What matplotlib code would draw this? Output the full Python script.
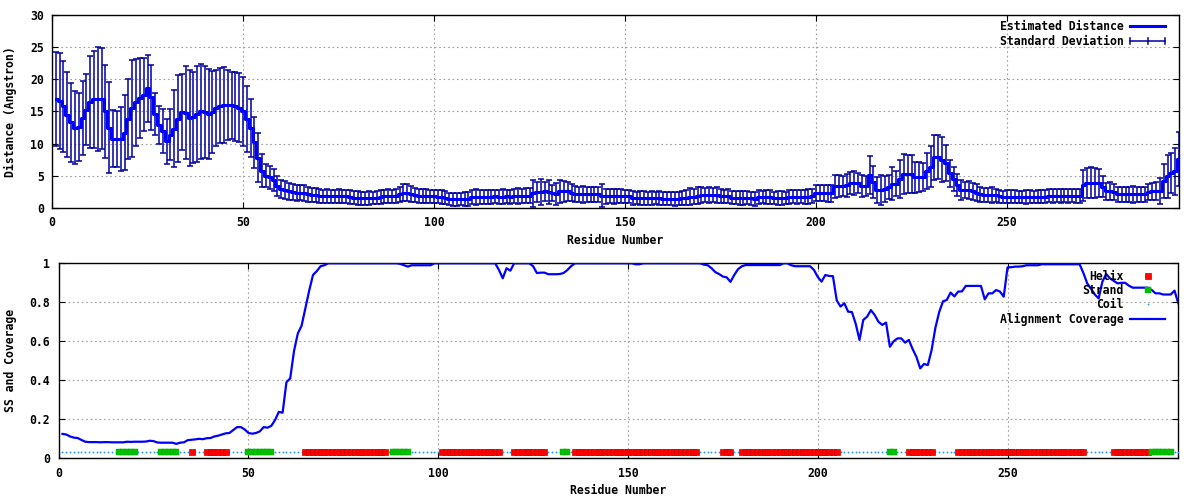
import matplotlib
matplotlib.use('Agg')
import matplotlib.pyplot as plt
from matplotlib.lines import Line2D
from matplotlib.legend_handler import HandlerBase

# ---------------- data ----------------
residues = list(range(1, 296))

distance = [
    17.0, 16.6, 15.8, 14.5, 13.3, 12.5, 12.6, 14.0, 15.3, 16.5,
    16.9, 17.0, 17.0, 15.0, 12.5, 10.8, 10.7, 10.7, 11.7, 13.8,
    15.5, 16.4, 17.1, 17.6, 18.6, 17.2, 14.6, 12.9, 12.0, 10.4,
    11.4, 12.3, 13.9, 14.9, 14.8, 14.0, 14.1, 14.6, 15.0, 14.9,
    14.6, 14.9, 15.5, 15.9, 16.0, 16.0, 16.0, 15.8, 15.6, 15.0,
    13.8, 12.4, 10.2, 7.8, 5.8, 5.0, 4.8, 4.3, 3.4, 3.0,
    2.8, 2.6, 2.5, 2.4, 2.4, 2.3, 2.1, 2.0, 2.0, 1.9,
    1.8, 1.8, 1.8, 1.8, 1.8, 1.8, 1.8, 1.7, 1.6, 1.55,
    1.5, 1.5, 1.55, 1.55, 1.6, 1.7, 1.8, 1.8, 1.8, 1.9,
    2.1, 2.4, 2.4, 2.2, 2.0, 1.9, 1.9, 1.9, 1.85, 1.8,
    1.75, 1.7, 1.6, 1.35, 1.35, 1.35, 1.4, 1.35, 1.4, 1.7,
    1.7, 1.75, 1.7, 1.7, 1.75, 1.8, 1.75, 1.75, 1.8, 1.75,
    1.8, 1.85, 1.9, 1.9, 1.9, 2.3, 2.5, 2.5, 2.6, 2.5,
    2.3, 2.2, 2.6, 2.6, 2.6, 2.4, 2.2, 2.1, 2.1, 2.1,
    2.1, 2.1, 2.1, 1.9, 1.8, 1.8, 1.8, 1.8, 1.8, 1.8,
    1.8, 1.55, 1.55, 1.55, 1.55, 1.5, 1.55, 1.55, 1.55, 1.45,
    1.45, 1.45, 1.45, 1.45, 1.5, 1.6, 1.75, 1.75, 1.9, 2.0,
    2.0, 2.0, 2.0, 2.0, 1.8, 1.8, 1.8, 1.6, 1.6, 1.6,
    1.6, 1.6, 1.5, 1.35, 1.7, 1.7, 1.7, 1.7, 1.55, 1.55,
    1.55, 1.55, 1.65, 1.75, 1.75, 1.75, 1.75, 1.75, 1.9, 2.3,
    2.3, 2.3, 2.3, 2.3, 3.4, 3.4, 3.4, 3.5, 3.9, 3.9,
    3.9, 3.4, 3.4, 5.1, 4.1, 2.8, 2.8, 2.9, 3.3, 3.8,
    3.8, 4.5, 5.3, 5.3, 5.3, 4.8, 4.8, 4.8, 5.8, 6.4,
    7.9, 7.9, 7.5, 7.0, 5.4, 4.5, 3.6, 2.8, 2.8, 2.8,
    2.6, 2.4, 2.1, 2.0, 2.0, 2.0, 2.0, 1.8, 1.75, 1.75,
    1.75, 1.75, 1.75, 1.7, 1.7, 1.75, 1.75, 1.75, 1.75, 1.75,
    1.9, 1.9, 1.9, 1.9, 1.9, 1.9, 1.9, 1.9, 1.9, 3.5,
    3.9, 3.9, 3.9, 3.9, 3.3, 2.6, 2.6, 2.5, 2.1, 2.1,
    2.1, 2.1, 2.1, 2.1, 2.1, 2.1, 2.5, 2.6, 2.6, 2.6,
    4.2, 4.9, 5.4, 5.7, 7.6,
]

std_dev = [
    7.3, 7.5, 7.1, 6.6, 6.1, 5.7, 5.3, 5.8, 5.5, 7.2,
    7.5, 8.1, 7.9, 7.3, 7.1, 4.4, 4.4, 5.0, 5.8, 6.2,
    7.5, 6.8, 6.2, 5.7, 5.2, 5.1, 3.2, 3.0, 3.4, 3.5,
    4.0, 6.0, 6.7, 5.9, 7.2, 7.4, 7.1, 7.4, 7.4, 7.1,
    7.0, 6.4, 5.9, 5.8, 5.9, 5.5, 5.2, 5.4, 5.4, 5.4,
    5.1, 4.5, 4.0, 3.8, 2.6, 1.8, 1.8, 1.7, 1.5, 1.4,
    1.4, 1.3, 1.3, 1.25, 1.2, 1.2, 1.15, 1.1, 1.1, 1.1,
    1.05, 1.1, 1.0, 1.05, 1.1, 1.0, 1.05, 1.1, 1.0, 1.05,
    1.0, 1.05, 1.1, 1.0, 1.05, 1.1, 1.0, 1.1, 1.05, 1.1,
    1.2, 1.3, 1.3, 1.2, 1.1, 1.1, 1.05, 1.1, 1.0, 1.0,
    1.0, 1.05, 1.0, 0.95, 1.0, 1.05, 1.0, 1.1, 1.05, 1.1,
    1.2, 1.1, 1.05, 1.15, 1.1, 1.0, 1.1, 1.15, 1.05, 1.1,
    1.1, 1.2, 1.1, 1.15, 1.2, 2.1, 1.6, 2.0, 1.5, 1.9,
    1.2, 1.7, 1.8, 1.6, 1.5, 1.3, 1.2, 1.2, 1.3, 1.2,
    1.2, 1.1, 1.2, 1.8, 1.2, 1.1, 1.2, 1.1, 1.1, 1.0,
    1.0, 1.05, 1.0, 1.05, 1.1, 1.0, 1.05, 1.0, 1.05, 1.0,
    1.05, 1.0, 1.1, 1.05, 1.1, 1.2, 1.3, 1.2, 1.3, 1.2,
    1.1, 1.2, 1.1, 1.2, 1.1, 1.05, 1.1, 1.0, 1.05, 1.1,
    1.1, 1.0, 1.05, 1.1, 1.1, 1.0, 1.1, 1.05, 1.0, 1.1,
    1.05, 1.0, 1.1, 1.05, 1.1, 1.0, 1.1, 1.2, 1.1, 1.2,
    1.2, 1.2, 1.3, 1.3, 1.8, 1.7, 1.6, 1.8, 1.7, 1.9,
    1.6, 1.7, 1.5, 3.0, 2.5, 2.0, 2.3, 2.0, 1.9, 2.5,
    2.0, 2.9, 3.1, 3.0, 2.9, 2.4, 2.3, 2.2, 2.8, 3.2,
    3.5, 3.4, 3.5, 2.8, 2.1, 1.9, 1.7, 1.5, 1.3, 1.4,
    1.3, 1.3, 1.2, 1.1, 1.1, 1.2, 1.0, 1.0, 0.95, 1.0,
    1.05, 1.0, 0.95, 1.0, 1.05, 1.0, 0.95, 1.0, 1.05, 1.0,
    1.0, 1.05, 1.0, 1.05, 1.0, 1.05, 1.0, 1.1, 1.05, 2.4,
    2.3, 2.4, 2.3, 2.2, 1.6, 1.3, 1.4, 1.3, 1.2, 1.1,
    1.2, 1.1, 1.3, 1.2, 1.1, 1.2, 1.2, 1.3, 1.4, 2.0,
    2.6, 3.4, 3.1, 3.7, 4.2,
]

coverage = [
    0.125, 0.122, 0.112, 0.106, 0.104, 0.094, 0.085, 0.083, 0.083, 0.083,
    0.082, 0.083, 0.083, 0.082, 0.082, 0.082, 0.082, 0.085, 0.084, 0.085,
    0.085, 0.085, 0.086, 0.090, 0.088, 0.081, 0.080, 0.080, 0.080, 0.080,
    0.074, 0.080, 0.082, 0.093, 0.095, 0.097, 0.100, 0.098, 0.103, 0.104,
    0.112, 0.116, 0.122, 0.128, 0.130, 0.145, 0.160, 0.160, 0.148, 0.130,
    0.126, 0.130, 0.138, 0.160, 0.157, 0.166, 0.196, 0.238, 0.234, 0.390,
    0.410, 0.550, 0.640, 0.680, 0.770, 0.860, 0.940, 0.960, 0.985, 0.990,
    1.000, 1.000, 1.000, 1.000, 1.000, 1.000, 1.000, 1.000, 1.000, 1.000,
    1.000, 1.000, 1.000, 1.000, 1.000, 1.000, 1.000, 1.000, 1.000, 0.997,
    0.990, 0.983, 0.990, 0.990, 0.990, 0.990, 0.990, 0.990, 1.000, 1.000,
    1.000, 1.000, 1.000, 1.000, 1.000, 1.000, 1.000, 1.000, 1.000, 1.000,
    1.000, 1.000, 1.000, 1.000, 1.000, 0.966, 0.923, 0.975, 0.962, 1.000,
    1.000, 1.000, 1.000, 1.000, 0.985, 0.950, 0.952, 0.952, 0.944, 0.944,
    0.944, 0.945, 0.950, 0.965, 0.985, 1.000, 1.000, 1.000, 1.000, 1.000,
    1.000, 1.000, 1.000, 1.000, 1.000, 1.000, 1.000, 1.000, 1.000, 1.000,
    1.000, 0.995, 0.995, 1.000, 1.000, 1.000, 1.000, 1.000, 1.000, 1.000,
    1.000, 1.000, 1.000, 1.000, 1.000, 1.000, 1.000, 1.000, 1.000, 0.993,
    0.990, 0.975, 0.955, 0.945, 0.932, 0.928, 0.905, 0.940, 0.970, 0.985,
    0.991, 0.991, 0.991, 0.991, 0.991, 0.991, 0.991, 0.991, 0.991, 0.991,
    1.000, 1.000, 0.990, 0.985, 0.985, 0.985, 0.985, 0.985, 0.966, 0.930,
    0.906, 0.940, 0.935, 0.934, 0.810, 0.778, 0.795, 0.752, 0.750, 0.690,
    0.607, 0.710, 0.726, 0.760, 0.735, 0.700, 0.684, 0.696, 0.572, 0.600,
    0.615, 0.615, 0.593, 0.607, 0.560, 0.520, 0.461, 0.484, 0.478, 0.555,
    0.670, 0.750, 0.805, 0.812, 0.850, 0.830, 0.855, 0.856, 0.884, 0.884,
    0.884, 0.884, 0.884, 0.815, 0.846, 0.846, 0.863, 0.855, 0.829, 0.979,
    0.980, 0.983, 0.983, 0.985, 0.990, 0.990, 0.990, 0.990, 0.995, 0.995,
    0.995, 0.995, 0.995, 0.995, 0.995, 0.995, 0.995, 0.995, 0.995, 0.950,
    0.897, 0.870, 0.840, 0.820, 0.906, 0.945, 0.923, 0.910, 0.897, 0.900,
    0.900, 0.885, 0.875, 0.875, 0.875, 0.875, 0.875, 0.863, 0.846, 0.846,
    0.840, 0.840, 0.840, 0.860, 0.795,
]

# secondary structure segments (first residue, last residue)
helix_segments = [(35, 35), (39, 44), (65, 86), (101, 116), (120, 128),
                  (136, 168), (175, 177), (180, 205), (224, 230),
                  (237, 270), (278, 287)]
strand_segments = [(16, 20), (27, 31), (50, 56), (88, 92), (133, 134),
                   (219, 220), (288, 293)]
ss_value = 0.03

x_ticks = [0, 50, 100, 150, 200, 250]
dist_ticks = [0, 5, 10, 15, 20, 25, 30]
cov_ticks = [0, 0.2, 0.4, 0.6, 0.8, 1.0]
cov_tick_labels = ['0', '0.2', '0.4', '0.6', '0.8', '1']

# ---------------- style ----------------
FONT = 'DejaVu Sans Mono'
FS = 8.3
plt.rcParams['font.family'] = [FONT, 'DejaVu Sans']
plt.rcParams['font.weight'] = 'bold'
plt.rcParams['font.size'] = FS

fig = plt.figure(figsize=(12, 5), dpi=100)
W, H = 1200.0, 500.0
ax1 = fig.add_axes([52 / W, 1 - 208 / H, (1179 - 52) / W, (208 - 15) / H])
ax2 = fig.add_axes([58.7 / W, 1 - 458.3 / H, (1178.3 - 58.7) / W, (458.3 - 263.3) / H])


def style(ax):
    ax.tick_params(direction='in', length=4, width=0.8, top=True, right=True,
                   pad=6, labelsize=FS)
    ax.grid(True, color='#a0a0a0', linestyle=(0, (1.5, 2.5)), linewidth=0.8)
    ax.set_axisbelow(True)
    for sp in ax.spines.values():
        sp.set_linewidth(1.0)
    for lab in ax.get_xticklabels() + ax.get_yticklabels():
        lab.set_fontweight('bold')


# ---------------- top panel ----------------
ax1.errorbar(residues, distance, yerr=std_dev, fmt='none', ecolor='#0000a0',
             elinewidth=1.1, capsize=2.4, capthick=1.1, zorder=2)
ax1.plot(residues, distance, color='#0000ff', lw=2.2, drawstyle='steps-mid', zorder=3)
ax1.set_xlim(0, 295)
ax1.set_ylim(0, 30)
ax1.set_xticks(x_ticks)
ax1.set_yticks(dist_ticks)
style(ax1)
ax1.set_xlabel('Residue Number', fontweight='bold', fontsize=FS)
ax1.xaxis.set_label_coords(0.5, -0.166)
ax1.xaxis.label.set_va('center')
ax1.set_ylabel('Distance (Angstron)', fontweight='bold', fontsize=FS)
ax1.yaxis.set_label_coords(-0.0373, 0.5)
ax1.yaxis.label.set_va('center')


class GnuErrHandler(HandlerBase):
    def create_artists(self, legend, orig_handle, xdescent, ydescent,
                       width, height, fontsize, trans):
        x0 = -xdescent
        x1 = -xdescent + width
        yc = (height - ydescent) / 2.0
        cap = 2.3
        col = '#0000a0'
        lw = 1.1
        arts = [
            Line2D([x0, x1], [yc, yc], color=col, lw=lw),
            Line2D([x0, x0], [yc - cap, yc + cap], color=col, lw=lw),
            Line2D([x1, x1], [yc - cap, yc + cap], color=col, lw=lw),
            Line2D([(x0 + x1) / 2] * 2, [yc - cap, yc + cap], color=col, lw=lw),
        ]
        for a in arts:
            a.set_transform(trans)
        return arts


h_line = Line2D([], [], color='#0000ff', lw=2.2)
h_err = Line2D([], [], color='#0000a0')
legprop = {'family': FONT, 'weight': 'bold', 'size': FS}
ax1.legend(handles=[h_line, h_err], labels=['Estimated Distance', 'Standard Deviation'],
           handler_map={h_err: GnuErrHandler()}, loc='upper right',
           bbox_to_anchor=(0.9876, 0.972), frameon=False, markerfirst=False,
           handlelength=3.0, handletextpad=0.6, labelspacing=0.15,
           borderpad=0, borderaxespad=0, prop=legprop)

# ---------------- bottom panel ----------------
helix_res = [r for a, b in helix_segments for r in range(a, b + 1)]
strand_res = [r for a, b in strand_segments for r in range(a, b + 1)]
coil_res = [r for r in residues if r not in helix_res and r not in strand_res]

ax2.plot(coil_res, [ss_value] * len(coil_res), ls='none', marker='o', ms=1.3,
         color='#1e90ff', mec='none', zorder=3)
ax2.plot(helix_res, [ss_value] * len(helix_res), ls='none', marker='s', ms=3.8,
         color='#ff0000', mec='#d00000', mew=0.5, zorder=4)
ax2.plot(strand_res, [ss_value] * len(strand_res), ls='none', marker='s', ms=5.0,
         color='#00c000', mec='#00b000', mew=0.3, zorder=4)
ax2.plot(residues, coverage, color='#0000ff', lw=1.6, zorder=5)
ax2.set_xlim(0, 295)
ax2.set_ylim(0, 1)
ax2.set_xticks(x_ticks)
ax2.set_yticks(cov_ticks)
ax2.set_yticklabels(cov_tick_labels)
style(ax2)
ax2.set_xlabel('Residue Number', fontweight='bold', fontsize=FS)
ax2.xaxis.set_label_coords(0.5, -0.163)
ax2.xaxis.label.set_va('center')
ax2.set_ylabel('SS and Coverage', fontweight='bold', fontsize=FS)
ax2.yaxis.set_label_coords(-0.0429, 0.5)
ax2.yaxis.label.set_va('center')

hh = Line2D([], [], ls='none', marker='s', ms=3.8, color='#ff0000', mec='#d00000', mew=0.5)
hs = Line2D([], [], ls='none', marker='s', ms=5.0, color='#00c000', mec='#00b000', mew=0.3)
hc = Line2D([], [], ls='none', marker='o', ms=1.3, color='#1e90ff', mec='none')
hcov = Line2D([], [], color='#0000ff', lw=1.6)
ax2.legend(handles=[hh, hs, hc, hcov], labels=['Helix', 'Strand', 'Coil', 'Alignment Coverage'],
           loc='upper right', bbox_to_anchor=(0.988, 0.968), frameon=False,
           markerfirst=False, numpoints=1, handlelength=3.0, handletextpad=0.6,
           labelspacing=0.12, borderpad=0, borderaxespad=0, prop=legprop)

fig.savefig('out.png', dpi=100)
